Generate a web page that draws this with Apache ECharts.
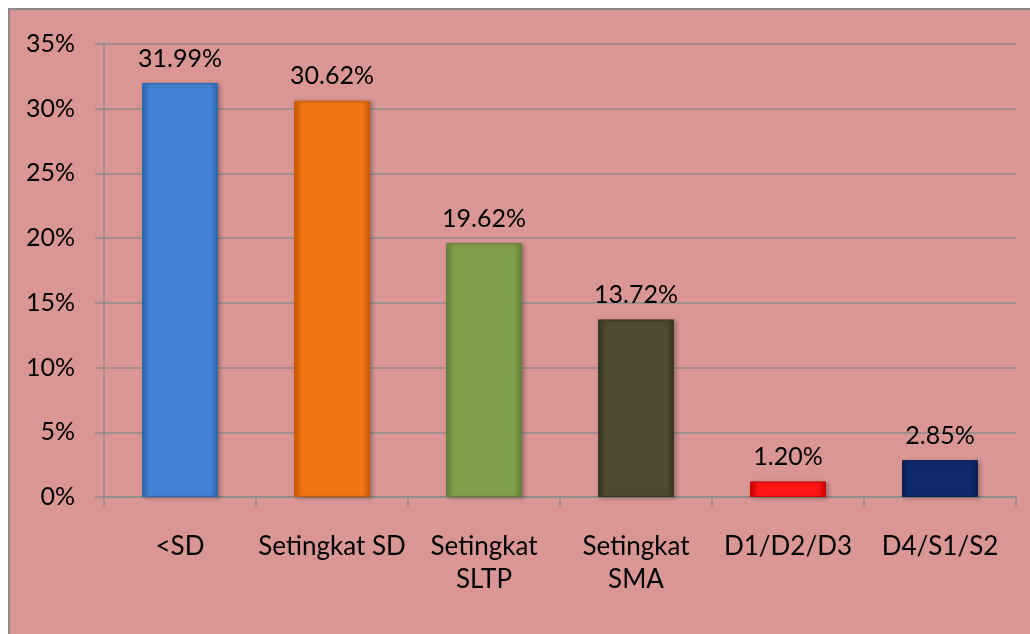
<!DOCTYPE html>
<html>
<head>
<meta charset="utf-8">
<script src="https://cdn.jsdelivr.net/npm/echarts@6/dist/echarts.min.js"></script>
<style>
  html, body { margin: 0; padding: 0; background: #fff; }
  #chart { width: 1030px; height: 634px; }
</style>
</head>
<body>
<div id="chart"></div>
<script>
const categories = ['<SD', 'Setingkat SD', 'Setingkat\nSLTP', 'Setingkat\nSMA', 'D1/D2/D3', 'D4/S1/S2']
const values = [31.99, 30.62, 19.62, 13.72, 1.20, 2.85]
const barColors = [
  ['#2f66ad', '#4282d4', '#2f66ad'],
  ['#c85a08', '#f27512', '#c85a08'],
  ['#66803a', '#80a04a', '#66803a'],
  ['#3a3522', '#4f4a30', '#3a3522'],
  ['#cc0000', '#ff1414', '#cc0000'],
  ['#0a1f55', '#0f2a6e', '#0a1f55']
]
const yTicks = [0, 5, 10, 15, 20, 25, 30, 35]

const chart = echarts.init(document.getElementById('chart'))
const font = 'Lato, "Open Sans", sans-serif'

chart.setOption({
  backgroundColor: '#ffffff',
  animation: false,
  graphic: [{
    type: 'rect', z: -10, silent: true,
    shape: { x: 9, y: 9, width: 1040, height: 640 },
    style: { fill: '#d99694', stroke: '#8a8a8a', lineWidth: 2 }
  }],
  grid: { left: 104, right: 14, top: 44, bottom: 137 },
  xAxis: {
    type: 'category',
    data: categories,
    axisLine: { lineStyle: { color: '#8c8c8c', width: 1.5 } },
    axisTick: { show: true, length: 9, lineStyle: { color: '#8c8c8c', width: 1.5 } },
    axisLabel: { color: '#000', fontSize: 26, fontFamily: font, margin: 33, lineHeight: 33, interval: 0 }
  },
  yAxis: {
    type: 'value',
    min: yTicks[0], max: yTicks[yTicks.length - 1], interval: 5,
    axisLine: { show: true, lineStyle: { color: '#8c8c8c', width: 1.5 } },
    axisTick: { show: true, length: 9, lineStyle: { color: '#8c8c8c', width: 1.5 } },
    splitLine: { lineStyle: { color: '#8c8c8c', width: 1.5 } },
    axisLabel: { color: '#000', fontSize: 25, fontFamily: font, margin: 29, formatter: '{value}%' }
  },
  series: [{
    type: 'bar',
    barWidth: '50%',
    data: values.map((v, i) => ({
      value: v,
      itemStyle: {
        color: new echarts.graphic.LinearGradient(0, 0, 1, 0, [
          { offset: 0, color: barColors[i][0] },
          { offset: 0.1, color: barColors[i][1] },
          { offset: 0.9, color: barColors[i][1] },
          { offset: 1, color: barColors[i][2] }
        ]),
        borderColor: barColors[i][0],
        borderWidth: 1,
        shadowColor: 'rgba(0,0,0,0.25)',
        shadowBlur: 4,
        shadowOffsetX: 2,
        shadowOffsetY: 1
      }
    })),
    label: {
      show: true, position: 'top', distance: 12,
      color: '#000', fontSize: 25, fontFamily: font,
      formatter: (p) => p.value.toFixed(2) + '%'
    }
  }]
})
</script>
</body>
</html>
